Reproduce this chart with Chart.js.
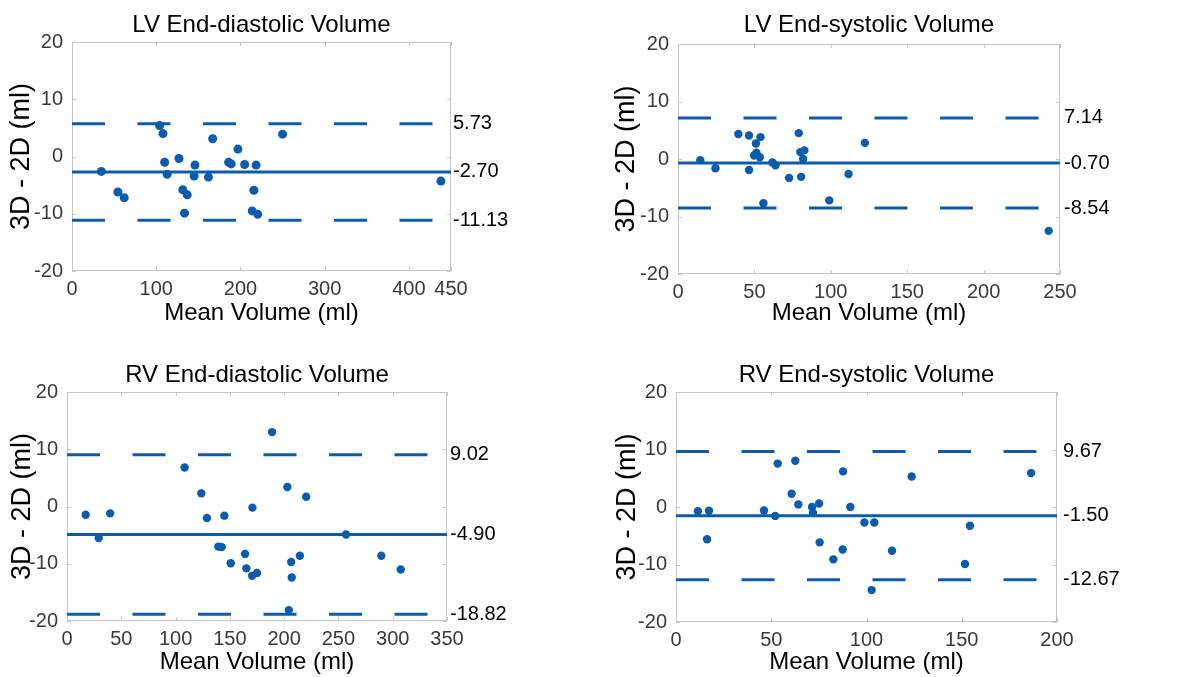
<!DOCTYPE html>
<html>
<head>
<meta charset="utf-8">
<script src="https://cdn.jsdelivr.net/npm/chart.js@4/dist/chart.umd.min.js"></script>
<style>
  body { margin: 0; background: #fff; }
  #wrap { position: relative; width: 1197px; height: 677px; }
  canvas { position: absolute; }
</style>
</head>
<body>
<div id="wrap">
  <canvas id="c1" width="600" height="330" style="left:0;top:0"></canvas>
  <canvas id="c2" width="597" height="330" style="left:600px;top:0"></canvas>
  <canvas id="c3" width="600" height="347" style="left:0;top:330px"></canvas>
  <canvas id="c4" width="597" height="347" style="left:600px;top:330px"></canvas>
</div>
<script>
// LV end-diastolic
const lvEdvMean = [34.8, 54.5, 62, 104, 108, 110, 113, 127, 131.6, 133.6, 136.8, 145, 146, 162, 167, 186, 189, 197, 205, 216, 214, 220.5, 218.6, 250, 438];
const lvEdvDiff = [-2.6, -6.2, -7.2, 5.4, 4.0, -1.0, -3.1, -0.35, -5.8, -9.9, -6.7, -3.4, -1.5, -3.6, 3.1, -1.0, -1.3, 1.3, -1.4, -5.9, -9.5, -10.1, -1.5, 3.9, -4.3];
const lvEdvLimits = [5.73, -2.70, -11.13];
const lvEdvTicks = [0, 100, 200, 300, 400, 450];

// LV end-systolic
const lvEsvMean = [14.6, 24.5, 39.5, 46.5, 46.5, 51, 54, 49.8, 51.3, 53.5, 61.8, 63.8, 55.9, 72.7, 79, 80, 82.7, 81.9, 80.6, 99, 111.6, 122.3, 242.6];
const lvEsvDiff = [-0.2, -1.6, 4.35, 4.1, -1.9, 2.7, 3.8, 0.6, 1.1, 0.3, -0.6, -1.1, -7.7, -3.3, 4.5, 1.2, 1.5, 0, -3.1, -7.2, -2.6, 2.8, -12.5];
const lvEsvLimits = [7.14, -0.70, -8.54];
const lvEsvTicks = [0, 50, 100, 150, 200, 250];

// RV end-diastolic
const rvEdvMean = [17.2, 29.2, 39.7, 108.3, 123.7, 128.9, 144.9, 139.4, 142.5, 150.8, 164, 165.2, 170.5, 175, 170.8, 188.9, 203, 204.3, 206.5, 207, 214.5, 220.3, 257, 289.5, 307.4];
const rvEdvDiff = [-1.45, -5.5, -1.2, 6.8, 2.3, -2.0, -1.6, -7.0, -7.1, -9.9, -8.3, -10.8, -12.1, -11.6, -0.2, 13.0, 3.4, -18.1, -9.7, -12.4, -8.6, 1.7, -4.9, -8.6, -11.0];
const rvEdvLimits = [9.02, -4.90, -18.82];
const rvEdvTicks = [0, 50, 100, 150, 200, 250, 300, 350];

// RV end-systolic
const rvEsvMean = [11.5, 17.3, 16.3, 46.2, 52.1, 53.4, 62.6, 60.7, 64.2, 71.4, 71.9, 75.1, 75.4, 82.6, 87.5, 87.7, 91.5, 98.9, 104.1, 102.7, 113.4, 123.7, 151.7, 154.3, 186.4];
const rvEsvDiff = [-0.75, -0.65, -5.6, -0.6, -1.55, 7.55, 8.05, 2.3, 0.45, 0, -1.05, 0.6, -6.15, -9.1, -7.4, 6.2, 0, -2.7, -2.7, -14.45, -7.6, 5.3, -9.9, -3.25, 5.9];
const rvEsvLimits = [9.67, -1.50, -12.67];
const rvEsvTicks = [0, 50, 100, 150, 200];

const yTicks = [-20, -10, 0, 10, 20];

const BLUE = '#0b5bae';
const TICK = '#3a3a3a';
Chart.defaults.font.family = '"Liberation Sans", Arial, sans-serif';

// light grey box + little inward tick marks, like the matlab axes
const frame = {
  id: 'frame',
  beforeDatasetsDraw(chart) {
    const { ctx, chartArea: a, scales: { x, y } } = chart;
    ctx.save();
    ctx.strokeStyle = '#c6c6c6';
    ctx.lineWidth = 1;
    ctx.strokeRect(a.left + 0.5, a.top + 0.5, a.width - 1, a.height - 1);
    ctx.beginPath();
    x.ticks.forEach(t => {
      const px = Math.round(x.getPixelForValue(t.value)) + 0.5;
      ctx.moveTo(px, a.bottom); ctx.lineTo(px, a.bottom - 4);
      ctx.moveTo(px, a.top); ctx.lineTo(px, a.top + 4);
    });
    y.ticks.forEach(t => {
      const py = Math.round(y.getPixelForValue(t.value)) + 0.5;
      ctx.moveTo(a.left, py); ctx.lineTo(a.left + 4, py);
      ctx.moveTo(a.right, py); ctx.lineTo(a.right - 4, py);
    });
    ctx.stroke();
    ctx.restore();
  }
};

function makeChart(id, title, xs, ys, limits, xTicks, box) {
  const xMax = xTicks[xTicks.length - 1];
  const pts = xs.map((x, i) => ({ x, y: ys[i] }));
  const hLine = v => [{ x: 0, y: v }, { x: xMax, y: v }];
  const lineSet = (v, dash) => ({
    type: 'line', data: hLine(v), borderColor: BLUE, borderWidth: 3,
    borderDash: dash, pointRadius: 0, fill: false
  });

  new Chart(document.getElementById(id), {
    type: 'scatter',
    data: {
      datasets: [
        { data: pts, backgroundColor: BLUE, borderColor: BLUE, pointRadius: box.r, pointHoverRadius: box.r, borderWidth: 0 },
        lineSet(limits[1], []),
        lineSet(limits[0], [33, 32.5]),
        lineSet(limits[2], [33, 32.5])
      ]
    },
    options: {
      responsive: false,
      animation: false,
      devicePixelRatio: 1,
      layout: { padding: 0 },
      plugins: {
        legend: { display: false },
        tooltip: { enabled: false },
        title: {
          display: true, text: title, fullSize: false, color: '#000',
          font: { size: 24, weight: 'normal' },
          padding: { top: box.tt, bottom: box.tb }
        }
      },
      scales: {
        x: {
          type: 'linear', min: 0, max: xMax,
          grid: { display: false, drawTicks: false },
          border: { display: false },
          afterBuildTicks: s => { s.ticks = xTicks.map(v => ({ value: v })); },
          afterFit: s => { s.height = box.xh; },
          ticks: { color: TICK, font: { size: 20 }, padding: 6, maxRotation: 0, autoSkip: false },
          title: {
            display: true, text: 'Mean Volume (ml)', color: '#000',
            font: { size: 24 }, padding: { top: 0, bottom: box.xtb }
          }
        },
        y: {
          type: 'linear', position: 'left', min: -20, max: 20,
          grid: { display: false, drawTicks: false },
          border: { display: false },
          afterBuildTicks: s => { s.ticks = yTicks.map(v => ({ value: v })); },
          afterFit: s => { s.width = box.yw; },
          ticks: { color: TICK, font: { size: 20 }, padding: 9 },
          title: {
            display: true, text: '3D - 2D (ml)', color: '#000',
            font: { size: 27 }, padding: { top: box.ytp, bottom: 0 }
          }
        },
        y2: {
          type: 'linear', position: 'right', min: -20, max: 20,
          grid: { display: false, drawTicks: false },
          border: { display: false },
          afterBuildTicks: s => { s.ticks = limits.map(v => ({ value: v })); },
          afterFit: s => { s.width = box.rw; },
          ticks: { color: '#000', font: { size: 20 }, padding: box.rp, callback: v => v.toFixed(2) }
        }
      }
    },
    plugins: [frame]
  });
}

makeChart('c1', 'LV End-diastolic Volume', lvEdvMean, lvEdvDiff, lvEdvLimits, lvEdvTicks,
  { r: 4.5, tt: 10.6, tb: 2.6, xh: 59, xtb: 2.6, yw: 72, ytp: 5.8, rw: 149, rp: 2 });
makeChart('c2', 'LV End-systolic Volume', lvEsvMean, lvEsvDiff, lvEsvLimits, lvEsvTicks,
  { r: 4.2, tt: 10.6, tb: 4.6, xh: 56, xtb: 2.6, yw: 78, ytp: 10.8, rw: 137, rp: 4 });
makeChart('c3', 'RV End-diastolic Volume', rvEdvMean, rvEdvDiff, rvEdvLimits, rvEdvTicks,
  { r: 4.2, tt: 30.6, tb: 2.6, xh: 56, xtb: 0.6, yw: 67, ytp: 6.8, rw: 153, rp: 3 });
makeChart('c4', 'RV End-systolic Volume', rvEsvMean, rvEsvDiff, rvEsvLimits, rvEsvTicks,
  { r: 4.2, tt: 30.6, tb: 2.6, xh: 55, xtb: 0, yw: 76, ytp: 11.8, rw: 140, rp: 6 });
</script>
</body>
</html>
